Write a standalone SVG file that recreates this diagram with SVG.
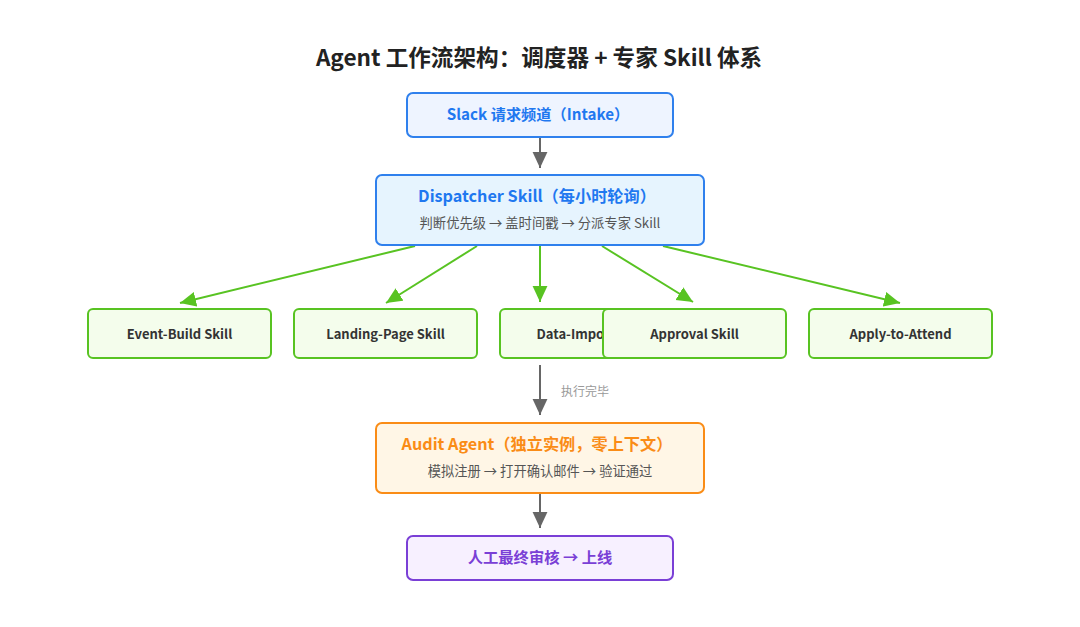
<svg xmlns="http://www.w3.org/2000/svg" width="1080" height="627" viewBox="0 0 1080 627">
<defs>
<style>
text{font-family:"Noto Sans CJK SC","Noto Sans",sans-serif;text-anchor:middle}
.title{font-size:22.6px;font-weight:700;fill:#222}
.blue{fill:#1f78f0;font-weight:700}
.sub{font-size:13.3px;fill:#555}
.skill rect{fill:#f4fdec;stroke:#58c322;stroke-width:2}
.skill text{font-size:13px;font-weight:700;fill:#333}
.g{stroke:#666;stroke-width:2;fill:none}
.gr{stroke:#58c322;stroke-width:2;fill:none}
</style>
<marker id="ag" markerUnits="userSpaceOnUse" markerWidth="16" markerHeight="16" viewBox="0 0 14 14" refX="14" refY="7" orient="auto"><path d="M0,0.5 L14,7 L0,13.5 Z" fill="#666"/></marker>
<marker id="agr" markerUnits="userSpaceOnUse" markerWidth="16" markerHeight="16" viewBox="0 0 14 14" refX="14" refY="7" orient="auto"><path d="M0,0.5 L14,7 L0,13.5 Z" fill="#58c322"/></marker>
</defs>
<rect width="1080" height="627" fill="#fff"/>
<text class="title" x="539" y="66">Agent 工作流架构：调度器 + 专家 Skill 体系</text>

<g id="connectors">
<line class="g" x1="540" y1="138" x2="540" y2="168" marker-end="url(#ag)"/>
<line class="gr" x1="415" y1="246" x2="180" y2="303" marker-end="url(#agr)"/>
<line class="gr" x1="477" y1="246" x2="386" y2="303" marker-end="url(#agr)"/>
<line class="gr" x1="540" y1="246" x2="540" y2="302" marker-end="url(#agr)"/>
<line class="gr" x1="602" y1="246" x2="693" y2="302" marker-end="url(#agr)"/>
<line class="gr" x1="663" y1="246" x2="900" y2="303" marker-end="url(#agr)"/>
<line class="g" x1="540" y1="365" x2="540" y2="415" marker-end="url(#ag)"/>
<text x="585" y="396" style="font-size:12px;fill:#999">执行完毕</text>
<line class="g" x1="540" y1="493" x2="540" y2="528" marker-end="url(#ag)"/>
</g>

<g id="slack">
<rect x="407" y="93" width="266" height="44" rx="6" fill="#eef4ff" stroke="#2f80ed" stroke-width="2"/>
<text class="blue" x="538" y="120" style="font-size:15.2px">Slack 请求频道（Intake）</text>
</g>

<g id="dispatcher">
<rect x="376" y="175" width="328" height="70" rx="6" fill="#e6f4fe" stroke="#2f80ed" stroke-width="2"/>
<text class="blue" x="537" y="202" style="font-size:16.2px">Dispatcher Skill（每小时轮询）</text>
<text class="sub" x="540" y="228">判断优先级 → 盖时间戳 → 分派专家 Skill</text>
</g>

<g id="event-build" class="skill">
<rect x="88" y="309" width="183" height="49" rx="5"/>
<text x="179.5" y="339">Event-Build Skill</text>
</g>
<g id="landing-page" class="skill">
<rect x="294" y="309" width="183" height="49" rx="5"/>
<text x="385.5" y="339">Landing-Page Skill</text>
</g>
<g id="data-import" class="skill">
<rect x="500" y="309" width="183" height="49" rx="5"/>
<text x="591.5" y="339">Data-Import Skill</text>
</g>
<g id="approval" class="skill">
<rect x="603" y="309" width="183" height="49" rx="5"/>
<text x="694.5" y="339">Approval Skill</text>
</g>
<g id="apply-to-attend" class="skill">
<rect x="809" y="309" width="183" height="49" rx="5"/>
<text x="900.5" y="339">Apply-to-Attend</text>
</g>

<g id="audit">
<rect x="376" y="423" width="328" height="70" rx="6" fill="#fff6e6" stroke="#fa8c16" stroke-width="2"/>
<text x="537" y="450" style="font-size:16.2px;font-weight:700;fill:#fa8c16">Audit Agent（独立实例，零上下文）</text>
<text class="sub" x="540" y="476">模拟注册 → 打开确认邮件 → 验证通过</text>
</g>

<g id="human">
<rect x="407" y="536" width="266" height="44" rx="6" fill="#f7f0ff" stroke="#7a3fd6" stroke-width="2"/>
<text x="540" y="563" style="font-size:15.3px;font-weight:700;fill:#7a3fd6">人工最终审核 → 上线</text>
</g>
</svg>
